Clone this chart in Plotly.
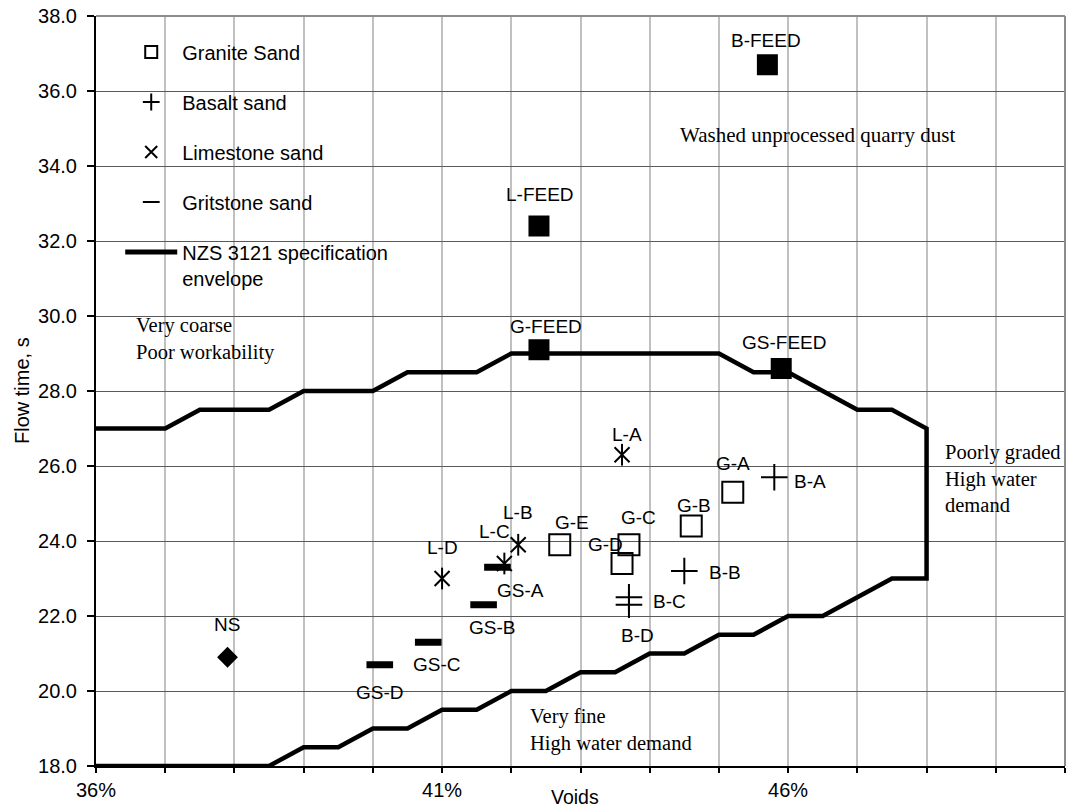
import plotly.graph_objects as go

# ---- data: voids (fraction) and flow time (s) ----
granite_names = ["G-A", "G-B", "G-C", "G-D", "G-E"]
granite_voids = [0.452, 0.446, 0.437, 0.436, 0.427]
granite_flow = [25.3, 24.4, 23.9, 23.4, 23.9]

basalt_names = ["B-A", "B-B", "B-C", "B-D"]
basalt_voids = [0.458, 0.445, 0.437, 0.437]
basalt_flow = [25.7, 23.2, 22.5, 22.3]

limestone_names = ["L-A", "L-B", "L-C", "L-D"]
limestone_voids = [0.436, 0.421, 0.419, 0.410]
limestone_flow = [26.3, 23.9, 23.4, 23.0]

gritstone_names = ["GS-A", "GS-B", "GS-C", "GS-D"]
gritstone_voids = [0.418, 0.416, 0.408, 0.401]
gritstone_flow = [23.3, 22.3, 21.3, 20.7]

feed_names = ["B-FEED", "L-FEED", "G-FEED", "GS-FEED"]
feed_voids = [0.457, 0.424, 0.424, 0.459]
feed_flow = [36.7, 32.4, 29.1, 28.6]

ns_names = ["NS"]
ns_voids = [0.379]
ns_flow = [20.9]

# NZS 3121 specification envelope (upper bound left to right, then lower bound back)
envelope_voids = [0.36, 0.37, 0.375, 0.385, 0.39, 0.40, 0.405, 0.415, 0.42, 0.45,
                  0.455, 0.46, 0.47, 0.475, 0.48, 0.48, 0.475, 0.465, 0.46, 0.455,
                  0.45, 0.445, 0.44, 0.435, 0.43, 0.425, 0.42, 0.415, 0.41, 0.405,
                  0.40, 0.395, 0.39, 0.385, 0.36]
envelope_flow = [27.0, 27.0, 27.5, 27.5, 28.0, 28.0, 28.5, 28.5, 29.0, 29.0,
                 28.5, 28.5, 27.5, 27.5, 27.0, 23.0, 23.0, 22.0, 22.0, 21.5,
                 21.5, 21.0, 21.0, 20.5, 20.5, 20.0, 20.0, 19.5, 19.5, 19.0,
                 19.0, 18.5, 18.5, 18.0, 18.0]

x_tick_vals = [0.36, 0.41, 0.46]
x_tick_text = ["36%", "41%", "46%"]

# point-label placement (pixel offsets from the marker: right, up)
label_offsets = {
    "G-A": (0, 29), "G-B": (3, 21), "G-C": (10, 27), "G-D": (-17, 19), "G-E": (12, 22),
    "B-A": (36, -4), "B-B": (41, -1), "B-C": (41, -4), "B-D": (9, -31),
    "L-A": (5, 20), "L-B": (0, 32), "L-C": (-10, 32), "L-D": (0, 31),
    "GS-A": (23, -23), "GS-B": (8, -23), "GS-C": (9, -22), "GS-D": (0, -28),
    "B-FEED": (-1, 24), "L-FEED": (1, 32), "G-FEED": (7, 23), "GS-FEED": (3, 26),
    "NS": (-1, 33),
}

SANS = "Liberation Sans, Arial, sans-serif"
SERIF = "Liberation Serif, Times New Roman, serif"
BLACK = "#000000"

fig = go.Figure()

fig.add_trace(go.Scatter(
    x=envelope_voids, y=envelope_flow, mode="lines",
    name="NZS 3121 specification<br>envelope",
    line=dict(color=BLACK, width=4.5),
    legendgroup="env", legendrank=5,
))

fig.add_trace(go.Scatter(
    x=gritstone_voids, y=gritstone_flow, mode="markers", name="Gritstone sand",
    marker=dict(symbol="line-ew-open", size=19, color=BLACK,
                line=dict(color=BLACK, width=7)),
    legendgroup="grit", legendrank=4,
))

fig.add_trace(go.Scatter(
    x=granite_voids, y=granite_flow, mode="markers", name="Granite Sand",
    marker=dict(symbol="square-open", size=21, color=BLACK,
                line=dict(color=BLACK, width=2)),
    legendgroup="granite", legendrank=1,
))

fig.add_trace(go.Scatter(
    x=basalt_voids, y=basalt_flow, mode="markers", name="Basalt sand",
    marker=dict(symbol="cross-thin-open", size=19, color=BLACK,
                line=dict(color=BLACK, width=2)),
    legendgroup="basalt", legendrank=2,
))

fig.add_trace(go.Scatter(
    x=limestone_voids, y=limestone_flow, mode="markers", name="Limestone sand",
    marker=dict(symbol="x-thin-open", size=15, color=BLACK,
                line=dict(color=BLACK, width=2)),
    legendgroup="lime", legendrank=3,
))
fig.add_trace(go.Scatter(
    x=limestone_voids, y=limestone_flow, mode="markers", showlegend=False,
    marker=dict(symbol="line-ns-open", size=15.5, color=BLACK,
                line=dict(color=BLACK, width=2)),
    legendgroup="lime", hoverinfo="skip",
))

fig.add_trace(go.Scatter(
    x=feed_voids, y=feed_flow, mode="markers", showlegend=False, name="Feed",
    marker=dict(symbol="square", size=21, color=BLACK),
))

fig.add_trace(go.Scatter(
    x=ns_voids, y=ns_flow, mode="markers", showlegend=False, name="NS",
    marker=dict(symbol="diamond", size=16, color=BLACK),
))

# point labels
annotations = []
for names, xs, ys in [
    (granite_names, granite_voids, granite_flow),
    (basalt_names, basalt_voids, basalt_flow),
    (limestone_names, limestone_voids, limestone_flow),
    (gritstone_names, gritstone_voids, gritstone_flow),
    (feed_names, feed_voids, feed_flow),
    (ns_names, ns_voids, ns_flow),
]:
    for n, xv, yv in zip(names, xs, ys):
        dx, dy = label_offsets[n]
        annotations.append(dict(
            x=xv, y=yv, xref="x", yref="y", text=n, showarrow=False,
            xshift=dx, yshift=dy, xanchor="center", yanchor="middle",
            font=dict(family=SANS, size=19, color=BLACK),
        ))

# region notes
notes = [
    ("Washed unprocessed quarry dust", 0.4441, 34.82, 21),
    ("Very coarse<br>Poor workability", 0.3655, 29.40, 20.5),
    ("Very fine<br>High water demand", 0.4224, 18.97, 20.5),
    ("Poorly graded<br>High water<br>demand", 0.4824, 25.66, 20.5),
]
for txt, xv, yv, fs in notes:
    annotations.append(dict(
        x=xv, y=yv, xref="x", yref="y", text=txt, showarrow=False,
        xanchor="left", yanchor="middle", align="left",
        font=dict(family=SERIF, size=fs, color=BLACK),
    ))

# axis titles
annotations.append(dict(
    x=0.494, y=0, xref="paper", yref="paper", text="Voids", showarrow=False,
    xanchor="center", yanchor="middle", yshift=-31,
    font=dict(family=SANS, size=19.5, color=BLACK),
))
annotations.append(dict(
    x=0, y=0.5, xref="paper", yref="paper", text="Flow time, s", showarrow=False,
    xanchor="center", yanchor="middle", xshift=-74, textangle=-90,
    font=dict(family=SANS, size=20, color=BLACK),
))

fig.update_layout(
    width=1070, height=811,
    margin=dict(l=96, r=5, t=16, b=45),
    paper_bgcolor="white", plot_bgcolor="white",
    font=dict(family=SANS, size=20, color=BLACK),
    annotations=annotations,
    showlegend=True,
    legend=dict(
        x=0.025, y=0.978, xanchor="left", yanchor="top",
        bgcolor="rgba(0,0,0,0)", borderwidth=0,
        font=dict(family=SANS, size=20, color=BLACK),
        traceorder="grouped", tracegroupgap=21, itemsizing="constant",
        itemwidth=52, valign="top",
    ),
    shapes=[
        dict(type="line", xref="paper", yref="paper", x0=0, x1=1, y0=1, y1=1,
             line=dict(color="#8c8c8c", width=2)),
        dict(type="line", xref="paper", yref="paper", x0=1, x1=1, y0=0, y1=1,
             line=dict(color="#8c8c8c", width=2)),
    ],
)

fig.update_xaxes(
    range=[0.36, 0.50], tickmode="array", tickvals=x_tick_vals, ticktext=x_tick_text,
    ticks="outside", ticklen=5, tickwidth=1.5, tickcolor=BLACK,
    showgrid=True, gridcolor="#c0c0c0", gridwidth=2,
    minor=dict(tick0=0.36, dtick=0.01, ticks="outside", ticklen=5, tickwidth=1.5,
               tickcolor=BLACK, showgrid=True, gridcolor="#c0c0c0", gridwidth=2),
    showline=True, linecolor=BLACK, linewidth=2, zeroline=False,
    tickfont=dict(family=SANS, size=20, color=BLACK), ticklabelstandoff=0,
)
fig.update_yaxes(
    range=[18, 38], dtick=2, tick0=18, tickformat=".1f",
    ticks="outside", ticklen=7, tickwidth=1.5, tickcolor=BLACK,
    showgrid=True, gridcolor="#5a5a5a", gridwidth=1.3,
    showline=True, linecolor=BLACK, linewidth=2, zeroline=False,
    tickfont=dict(family=SANS, size=20, color=BLACK), ticklabelstandoff=6,
)

fig.write_html("out.html")
